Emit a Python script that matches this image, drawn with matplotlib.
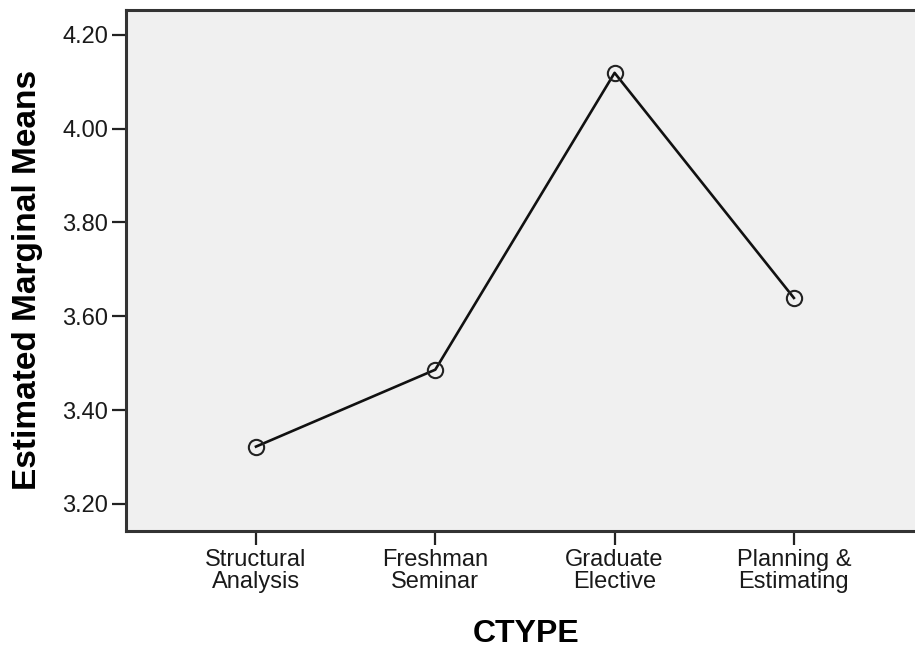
import matplotlib
matplotlib.use("Agg")
import matplotlib.pyplot as plt

plt.rcParams['font.family'] = ['Liberation Sans', 'DejaVu Sans']

# estimated marginal means by course type
categories = ["Structural\nAnalysis", "Freshman\nSeminar", "Graduate\nElective", "Planning &\nEstimating"]
means = [3.322, 3.486, 4.119, 3.639]
yticks = [3.20, 3.40, 3.60, 3.80, 4.00, 4.20]

fig = plt.figure(figsize=(9.15, 6.49), dpi=100)
ax = fig.add_axes([0.1377, 0.1818, 0.872, 0.8028])
ax.set_facecolor("#f0f0f0")

xs = list(range(len(categories)))
ax.plot(xs, means, color="#111111", linewidth=1.9, marker="o", markersize=11,
        markerfacecolor="none", markeredgecolor="#222222", markeredgewidth=1.5)

ax.set_xlim(-0.725, 3.725)
ax.set_ylim(3.142, 4.253)
ax.set_xticks(xs)
ax.set_xticklabels(categories, fontsize=17, linespacing=1.0, color="#1a1a1a")
ax.set_yticks(yticks)
ax.set_yticklabels(["%.2f" % v for v in yticks], fontsize=17, color="#1a1a1a")
ax.tick_params(axis="both", length=10, width=1.6, color="#222222", pad=3)

for side in ["left", "bottom", "top"]:
    ax.spines[side].set_linewidth(2.2)
    ax.spines[side].set_color("#333333")
ax.spines["right"].set_visible(False)

fig.text(28 / 915, 1 - 280 / 649, "Estimated Marginal Means", rotation=90,
         ha="center", va="center", fontsize=24, fontweight="bold")
fig.text(526 / 915, 1 - 633.5 / 649, "CTYPE", ha="center", va="center",
         fontsize=23, fontweight="bold")

fig.savefig("out.png", dpi=100, facecolor="white")
